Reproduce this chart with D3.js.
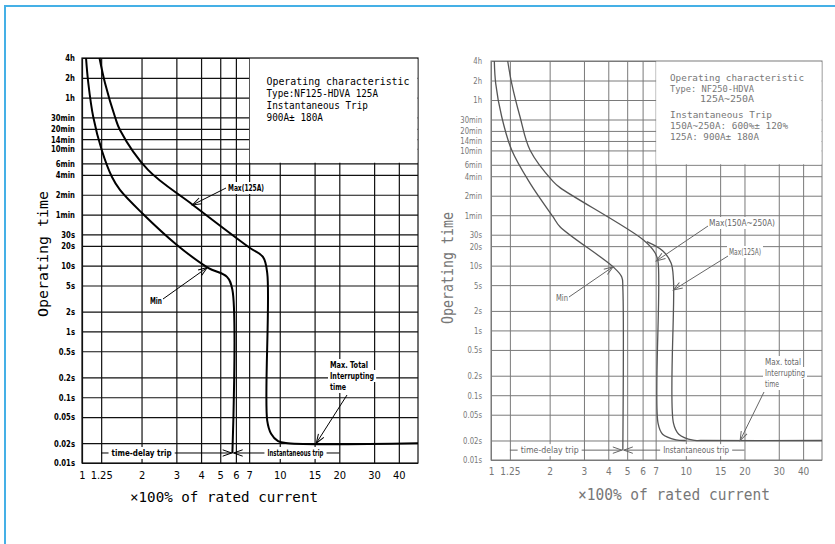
<!DOCTYPE html>
<html><head><meta charset="utf-8">
<script src="https://cdn.jsdelivr.net/npm/d3@7"></script>
<style>body{margin:0;background:#fff}svg{display:block}</style>
</head><body><svg id="c" width="835" height="544"></svg>
<script>
// ---------- data ----------
const yTickLabels = ["4h","2h","1h","30min","20min","14min","10min","6min","4min","2min","1min","30s","20s","10s","5s","2s","1s","0.5s","0.2s","0.1s","0.05s","0.02s","0.01s"];
const yTickSeconds = [14400,7200,3600,1800,1200,840,600,360,240,120,60,30,20,10,5,2,1,0.5,0.2,0.1,0.05,0.02,0.01];
const xTickValues = [1,1.25,2,3,4,5,6,7,10,15,20,30,40];
const xTickLabels = ["1","1.25","2","3","4","5","6","7","10","15","20","30","40"];
const xDomain = [1,50];
const yDomain = [0.01,14400];

// left chart (NF125-HDVA) curves: [multiple of rated current, seconds]
const leftMin = [[1.048,14400],[1.076,6000],[1.14,1824],[1.258,575],[1.418,223],[1.556,142],[2.01,63.4],[3.02,20.7],[4.34,9.3],[5.41,6.76],[5.76,4.3],[5.76,0.014]];
const leftMax = [[1.226,14400],[1.307,6000],[1.469,1824],[1.556,1159],[2.157,286],[3.64,84],[7.07,18.6],[8.22,13.6],[8.64,7.8],[8.64,0.044],[9.04,0.0278],[9.8,0.0215],[11,0.02],[50,0.02]];
// right chart (NF250-HDVA) curves
const rightMin = [[1.04,14400],[1.057,6516],[1.135,1987],[1.277,609],[1.585,188],[2.08,56.9],[2.26,39.9],[4.23,9.6],[4.69,6.7],[4.75,4.5],[4.75,0.014]];
const rightMax250 = [[1.218,14400],[1.277,6516],[1.409,1987],[1.585,609],[2.08,200],[2.26,160],[6.06,24.9],[6.95,15.8],[7.2,11.5],[7.2,0.037],[7.6,0.025],[8.9,0.0205],[10,0.02]];
const rightMax125 = [[6.3,23.5],[7.6,17],[8.4,11],[8.64,6.0],[8.64,0.037],[9.2,0.025],[10.9,0.0202],[12,0.02],[50,0.02]];

const leftBoxLines = ["Operating characteristic","Type:NF125-HDVA 125A","Instantaneous Trip","900A± 180A"];
const rightBoxLines = ["Operating characteristic","Type: NF250-HDVA","     125A~250A","Instantaneous Trip","150A~250A: 600%± 120%","125A: 900A± 180A"];
const splitLabels = ["time-delay trip","Instantaneous trip"];
const xTitle = "×100% of rated current";
const yTitle = "Operating time";

// ---------- drawing ----------
const svg = d3.select("#c");
const fCad = "'DejaVu Sans Condensed','Liberation Sans Narrow','DejaVu Sans',sans-serif";
const fMono = "'DejaVu Sans Mono','Liberation Mono',monospace";

svg.append("rect").attr("x",5).attr("y",6).attr("width",836).attr("height",540)
  .attr("fill","none").attr("stroke","#45b0e6").attr("stroke-width",2);

function makeMarker(id,color){
  const m = svg.append("defs").append("marker").attr("id",id)
    .attr("viewBox","-10 -5 12 10").attr("refX",0).attr("refY",0)
    .attr("markerWidth",12).attr("markerHeight",10).attr("markerUnits","userSpaceOnUse")
    .attr("orient","auto");
  m.append("path").attr("d","M-9,-3.2 L0,0 L-9,3.2").attr("fill","none").attr("stroke",color).attr("stroke-width",1);
}
makeMarker("arrL","#000");
makeMarker("arrR","#666");

function textBg(g, x, y, str, o){
  const t = g.append("text").attr("x",x).attr("y",y).text(str)
    .attr("font-family",o.font).attr("font-size",o.size).attr("font-weight",o.weight||"normal")
    .attr("fill",o.color).attr("text-anchor",o.anchor||"start");
  if(o.len) t.attr("textLength",o.len).attr("lengthAdjust","spacingAndGlyphs");
  const b = t.node().getBBox();
  g.insert("rect",()=>t.node()).attr("x",b.x-(o.padX||2)).attr("y",b.y-(o.padY||1))
    .attr("width",b.width+2*(o.padX||2)).attr("height",b.height+2*(o.padY||1)).attr("fill","#fff");
  return t;
}

function chart(c){
  const g = svg.append("g");
  const x = d3.scaleLog().domain(xDomain).range([c.left,c.right]);
  const y = d3.scaleLog().domain(yDomain).range([c.bottom,c.top]);
  const W = c.right-c.left, H = c.bottom-c.top;

  const ya = g.append("g").attr("transform",`translate(${c.left},0)`)
    .call(d3.axisLeft(y).tickValues(yTickSeconds).tickFormat((d,i)=>yTickLabels[i]).tickSize(-W).tickPadding(c.yPad));
  ya.select(".domain").remove();
  ya.selectAll("line").attr("stroke",c.grid).attr("stroke-width",c.gridW);
  ya.selectAll("text").attr("x",0).attr("transform",`translate(${-c.yPad},0) scale(${c.tickScale},1)`)
    .attr("font-family",fCad).attr("font-size",c.tickSize).attr("font-weight",c.tickWeight).attr("fill",c.tickColor);

  const xa = g.append("g").attr("transform",`translate(0,${c.bottom})`)
    .call(d3.axisBottom(x).tickValues(xTickValues).tickFormat((d,i)=>xTickLabels[i]).tickSize(-H).tickPadding(c.xPad));
  xa.select(".domain").remove();
  xa.selectAll("line").attr("stroke",c.grid).attr("stroke-width",c.gridW);
  xa.selectAll("text").attr("font-family",fCad).attr("font-size",c.xTickSize).attr("font-weight","normal").attr("fill",c.tickColor);

  g.append("rect").attr("x",c.left).attr("y",c.top).attr("width",W).attr("height",H)
    .attr("fill","none").attr("stroke",c.grid).attr("stroke-width",c.gridW);

  g.append("rect").attr("x",x(c.boxX)+c.gridW/2).attr("y",c.top+c.gridW/2)
    .attr("width",c.right-x(c.boxX)-c.gridW).attr("height",y(c.boxY)-c.top-c.gridW)
    .attr("fill","#fff");
  c.boxLines.forEach((s,i)=>{
    g.append("text").attr("x",c.boxTextX).attr("y",c.boxTextY[i]).text(s)
      .attr("font-family",fMono).attr("font-size",c.boxSize).attr("fill",c.boxColor)
      .attr("xml:space","preserve").style("white-space","pre")
      .attr("textLength",c.boxLens[i]).attr("lengthAdjust","spacingAndGlyphs");
  });

  const line = d3.line().x(d=>x(d[0])).y(d=>y(d[1])).curve(d3.curveCatmullRom.alpha(0.5));
  c.curves.forEach(cv=>{
    g.append("path").attr("d",line(cv)).attr("fill","none").attr("stroke",c.curveColor).attr("stroke-width",c.curveW);
  });

  const ys = y(c.splitT);
  g.append("line").attr("x1",x(1.25)).attr("x2",x(c.splitX)-1).attr("y1",ys).attr("y2",ys)
    .attr("stroke",c.annColor).attr("stroke-width",1).attr("marker-end",`url(#${c.marker})`);
  g.append("line").attr("x1",x(20)).attr("x2",x(c.splitX)+1).attr("y1",ys).attr("y2",ys)
    .attr("stroke",c.annColor).attr("stroke-width",1).attr("marker-end",`url(#${c.marker})`);
  const lo = {font:fCad,size:c.annSize,weight:c.annWeight,color:c.annColor,anchor:"middle",padX:3,padY:0};
  textBg(g, x(2), ys+3, splitLabels[0], Object.assign({len:c.splitLens[0]},lo));
  textBg(g, x(c.instCenter), ys+3, splitLabels[1], Object.assign({len:c.splitLens[1]},lo));

  c.anns.forEach(a=>{
    const o = {font:fCad,size:c.annSize,weight:c.annWeight,color:c.annColor,anchor:"start",padX:2,padY:0};
    if(a.lines){
      a.lines.forEach((s,i)=>textBg(g,a.tx,a.ty+i*c.annLH,s,Object.assign({len:a.lens[i]},o)));
    } else {
      textBg(g,a.tx,a.ty,a.text,Object.assign({len:a.len},o));
    }
    g.append("line").attr("x1",a.from[0]).attr("y1",a.from[1])
      .attr("x2",x(a.to[0])).attr("y2",y(a.to[1]))
      .attr("stroke",c.annColor).attr("stroke-width",1).attr("marker-end",`url(#${c.marker})`);
  });

  g.append("text").attr("transform",`translate(${c.yTitleX},${c.yTitleY}) rotate(-90)`)
    .attr("text-anchor","middle").text(yTitle).attr("font-family",fMono).attr("font-size",c.titleSize)
    .attr("fill",c.titleColor).attr("textLength",c.yTitleLen).attr("lengthAdjust","spacingAndGlyphs");
  g.append("text").attr("x",c.xTitleX).attr("y",c.xTitleY).attr("text-anchor","middle").text(xTitle)
    .attr("font-family",fMono).attr("font-size",c.titleSize).attr("fill",c.titleColor)
    .attr("textLength",c.xTitleLen).attr("lengthAdjust","spacingAndGlyphs");
}

chart({
  left:82,right:418,top:58,bottom:463,
  grid:"#111",gridW:1.2,curveColor:"#000",curveW:2,
  tickSize:9,tickScale:0.85,xTickSize:11,tickWeight:"bold",tickColor:"#000",yPad:7,xPad:8,
  boxX:7,boxY:360,boxLines:leftBoxLines,boxTextX:266.5,boxTextY:[85,97,109,120.5],
  boxLens:[143,111.5,101.5,56.5],boxSize:11,boxColor:"#000",
  curves:[leftMin,leftMax],
  splitT:0.0142,splitX:5.78,instCenter:12,splitLens:[60,56],
  annColor:"#000",annSize:9,annWeight:"bold",annLH:11,marker:"arrL",
  anns:[
    {text:"Max(125A)",len:36,tx:228,ty:191,from:[226,188],to:[3.62,84]},
    {text:"Min",len:12,tx:150,ty:304,from:[163,299],to:[4.3,9.4]},
    {lines:["Max. Total","Interrupting","time"],lens:[38,44,16],tx:330,ty:368,from:[347,395],to:[15.3,0.02]}
  ],
  yTitleX:48,yTitleY:254,yTitleLen:126,xTitleX:224,xTitleY:502,xTitleLen:188,titleSize:14,titleColor:"#000"
});

chart({
  left:491,right:822,top:61,bottom:460,
  grid:"#7a7a7a",gridW:1,curveColor:"#555",curveW:1.3,
  tickSize:9,tickScale:0.85,xTickSize:10,tickWeight:"normal",tickColor:"#777",yPad:9,xPad:8,
  boxX:7,boxY:360,boxLines:rightBoxLines,boxTextX:670,boxTextY:[81,91.5,101.5,117.5,128.5,139.5],
  boxLens:[134,84,84,102,118,89],boxSize:9.5,boxColor:"#777",
  curves:[rightMin,rightMax250,rightMax125],
  splitT:0.0142,splitX:4.75,instCenter:11.3,splitLens:[58,66],
  annColor:"#666",annSize:9,annWeight:"normal",annLH:11,marker:"arrR",
  anns:[
    {text:"Max(150A~250A)",len:66,tx:709,ty:226,from:[708,226],to:[7.05,11.8]},
    {text:"Max(125A)",len:32,tx:729,ty:255,from:[728,256],to:[8.64,4.2]},
    {text:"Min",len:12,tx:556,ty:301,from:[569,297],to:[4.23,9.6]},
    {lines:["Max. total","Interrupting","time"],lens:[36,40,14],tx:765,ty:365,from:[764,392],to:[19,0.02]}
  ],
  yTitleX:453,yTitleY:268,yTitleLen:112,xTitleX:674,xTitleY:500,xTitleLen:192,titleSize:15,titleColor:"#777"
});
</script></body></html>
